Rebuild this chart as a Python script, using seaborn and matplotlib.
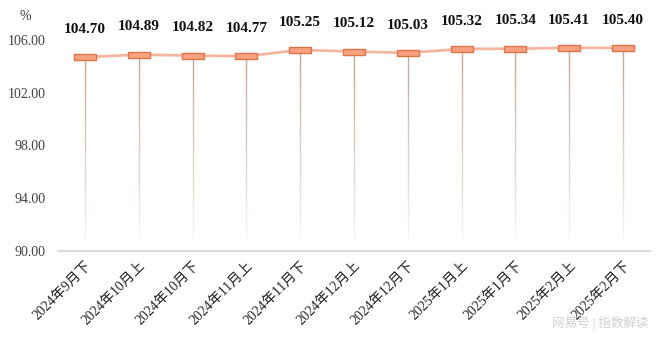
import matplotlib
matplotlib.use("Agg")
import matplotlib.pyplot as plt
import seaborn as sns
import numpy as np
import pandas as pd
from matplotlib.collections import LineCollection

categories = ["2024年9月下", "2024年10月上", "2024年10月下", "2024年11月上", "2024年11月下",
              "2024年12月上", "2024年12月下", "2025年1月上", "2025年1月下", "2025年2月上", "2025年2月下"]
values = [104.70, 104.89, 104.82, 104.77, 105.25, 105.12, 105.03, 105.32, 105.34, 105.41, 105.40]
yticks = [90, 94, 98, 102, 106]

sns.set_theme(style="white")
SERIF = ["Liberation Serif", "Noto Sans CJK SC", "DejaVu Sans"]
plt.rcParams["font.family"] = SERIF

df = pd.DataFrame({"x": np.arange(len(categories)), "cat": categories, "v": values})

fig = plt.figure(figsize=(6.6, 3.39), dpi=100)
ax = fig.add_axes([58/660, 1-251/339, 592/660, (251-40)/339])

# drop lines with fading gradient
segs, cols = [], []
base_rgb = np.array([0.70, 0.58, 0.50])
for xi, v in zip(df["x"], df["v"]):
    ys = np.linspace(v, 90.85, 40)
    for k in range(len(ys)-1):
        segs.append([(xi, ys[k]), (xi, ys[k+1])])
        t = k / (len(ys)-2)
        a = 0.85 - 0.75 * t
        cols.append((*base_rgb, a))
ax.add_collection(LineCollection(segs, colors=cols, linewidths=1.0, zorder=1))

sns.lineplot(data=df, x="x", y="v", ax=ax, color="#F4B6A0", linewidth=2, zorder=2)
rect = [(-1, -0.23), (1, -0.23), (1, 0.23), (-1, 0.23), (-1, -0.23)]
ax.plot(df["x"], df["v"], linestyle="none", marker=rect, markersize=16.5,
        markerfacecolor="#F9A27F", markeredgecolor="#E0724C", markeredgewidth=1.0, zorder=3)

for xi, v in zip(df["x"], df["v"]):
    ax.annotate(f"{v:.2f}", (xi, v), xytext=(0, 20), textcoords="offset points",
                ha="center", va="center", fontsize=11, fontweight="bold",
                family=SERIF, color="#111111", annotation_clip=False)

ax.set_xlim(-0.5, len(categories)-0.5)
ax.set_ylim(90, 106)
ax.set_yticks(yticks)
ax.set_yticklabels([f"{t:.2f}" for t in yticks], fontsize=10, color="#404040")
ax.set_xticks(df["x"])
ax.set_xticklabels(categories, rotation=45, ha="right", rotation_mode="anchor",
                   fontsize=10, color="#222222")
ax.tick_params(axis="both", length=0)
ax.tick_params(axis="y", pad=9)
ax.tick_params(axis="x", pad=6)
ax.set_xlabel("")
ax.set_ylabel("")
for s in ["top", "right", "left"]:
    ax.spines[s].set_visible(False)
ax.spines["bottom"].set_color("#DCDCDC")
ax.spines["bottom"].set_linewidth(1.5)

fig.text(25/660, 1-17/339, "%", ha="center", va="center", fontsize=10, color="#333333")
fig.text(600/660, 1-323/339, "网易号 | 指数解读", ha="center", va="center", fontsize=9,
         color="#CFCFCF", family=SERIF)

fig.savefig("out.png", dpi=100)
